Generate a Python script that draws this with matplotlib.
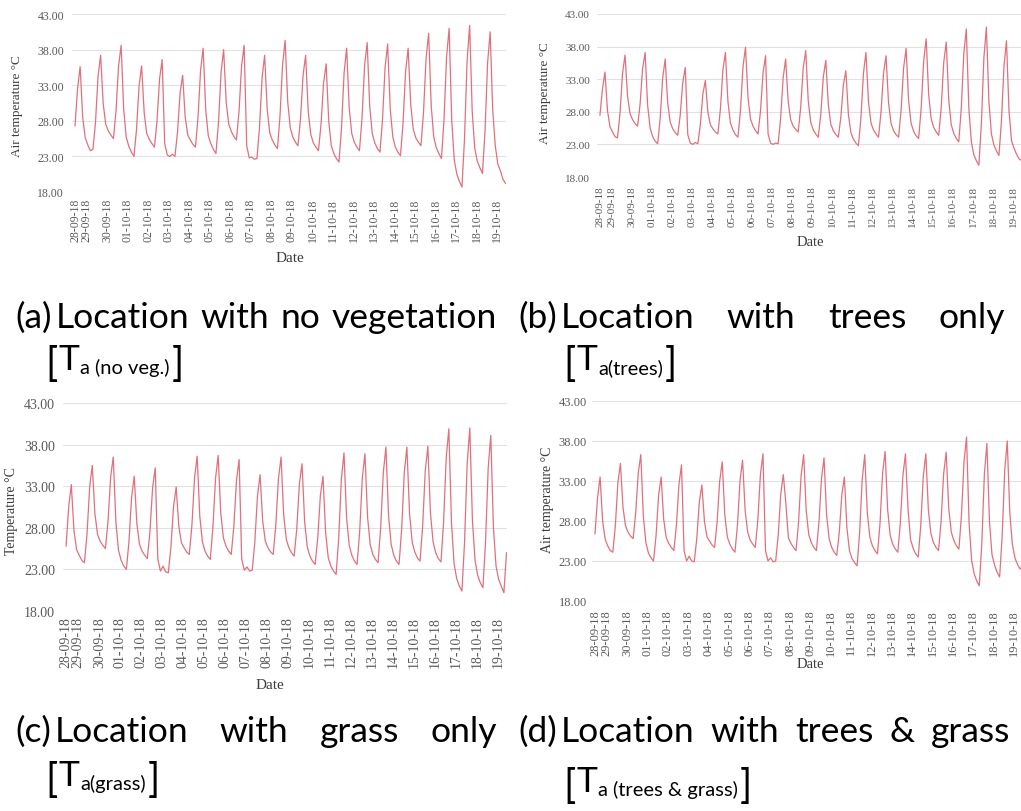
import numpy as np
import matplotlib
matplotlib.use("Agg")
import matplotlib.pyplot as plt

W, H, DPI = 1021, 812, 100

# ---------------- data ----------------
DATES = ["28-09-18", "29-09-18", "30-09-18", "01-10-18", "02-10-18", "03-10-18",
         "04-10-18", "05-10-18", "06-10-18", "07-10-18", "08-10-18", "09-10-18",
         "10-10-18", "11-10-18", "12-10-18", "13-10-18", "14-10-18", "15-10-18",
         "16-10-18", "17-10-18", "18-10-18", "19-10-18"]
START_HOUR = 10      # first reading on 28-09-18 (hour of day)
STEP_HOURS = 3       # reading interval

TA_NO_VEG = [
    27.3, 32.5, 35.6, 28.5, 25.6,
    24.6, 23.8, 24.0, 27.8, 34.3, 37.2, 30.4, 27.5,
    26.6, 26.0, 25.5, 29.4, 35.7, 38.6, 29.6, 25.7,
    24.4, 23.6, 23.0, 26.8, 32.9, 35.7, 29.1, 26.2,
    25.4, 24.8, 24.3, 28.0, 33.9, 36.6, 24.8, 23.2,
    23.0, 23.3, 23.0, 26.4, 31.9, 34.4, 28.5, 26.0,
    25.3, 24.7, 24.3, 28.5, 35.1, 38.2, 29.6, 25.9,
    24.8, 24.0, 23.4, 27.8, 34.8, 38.0, 30.6, 27.5,
    26.5, 25.8, 25.3, 29.3, 35.7, 38.6, 24.5, 22.8,
    22.9, 22.6, 22.7, 27.1, 34.0, 37.2, 29.6, 26.3,
    25.3, 24.6, 24.1, 28.7, 35.9, 39.3, 30.7, 27.0,
    25.7, 25.0, 24.5, 28.3, 34.4, 37.2, 29.4, 26.1,
    24.9, 24.3, 23.8, 27.5, 33.3, 36.0, 28.0, 24.5,
    23.4, 22.7, 22.2, 27.0, 34.7, 38.2, 29.8, 26.2,
    25.0, 24.3, 23.8, 28.4, 35.7, 39.0, 30.1, 26.2,
    24.9, 24.1, 23.6, 28.2, 35.5, 38.8, 29.7, 25.8,
    24.3, 23.6, 23.1, 27.6, 34.9, 38.2, 30.3, 26.8,
    25.6, 25.0, 24.5, 29.2, 36.8, 40.3, 30.1, 25.7,
    24.2, 23.4, 22.7, 28.2, 37.0, 41.0, 28.1, 22.5,
    20.5, 19.5, 18.7, 25.5, 36.4, 41.4, 29.3, 24.1,
    22.3, 21.4, 20.6, 26.6, 36.1, 40.5, 29.5, 24.5,
    21.9, 21.0, 19.8, 19.2]

TA_TREES = [
    27.5, 31.5, 34.1, 28.2, 25.7,
    24.9, 24.2, 24.0, 27.8, 33.9, 36.7, 30.4, 27.7,
    26.8, 26.2, 25.8, 29.2, 34.6, 37.1, 29.0, 25.5,
    24.2, 23.5, 23.1, 27.0, 33.2, 36.1, 29.3, 26.4,
    25.4, 24.8, 24.4, 27.5, 32.5, 34.8, 24.5, 23.2,
    23.0, 23.3, 23.1, 26.0, 30.7, 32.8, 28.0, 26.0,
    25.4, 24.9, 24.6, 28.4, 34.4, 37.1, 29.6, 26.3,
    25.2, 24.5, 24.1, 28.2, 34.9, 37.9, 30.2, 26.9,
    25.8, 25.1, 24.6, 28.2, 34.0, 36.6, 24.6, 23.2,
    23.0, 23.2, 23.1, 27.0, 33.2, 36.1, 29.6, 26.8,
    25.8, 25.3, 24.9, 28.7, 34.7, 37.4, 29.7, 26.4,
    25.2, 24.6, 24.1, 27.6, 33.3, 35.9, 29.1, 26.1,
    25.1, 24.5, 24.1, 27.2, 32.1, 34.3, 27.6, 24.8,
    23.8, 23.2, 22.8, 27.1, 33.9, 37.1, 29.6, 26.3,
    25.2, 24.6, 24.1, 27.9, 33.9, 36.6, 29.4, 26.2,
    25.1, 24.5, 24.1, 28.2, 34.7, 37.7, 29.7, 26.2,
    25.0, 24.3, 23.9, 28.5, 35.8, 39.2, 30.6, 26.9,
    25.6, 24.9, 24.4, 28.7, 35.6, 38.7, 29.8, 26.0,
    24.7, 23.9, 23.4, 28.6, 36.9, 40.7, 28.6, 23.4,
    21.4, 20.5, 19.8, 26.2, 36.3, 41.0, 29.6, 24.6,
    22.9, 22.0, 21.3, 26.6, 35.0, 38.9, 28.2, 23.6,
    22.4, 21.5, 20.8, 20.5]

TA_GRASS = [
    25.8, 30.5, 33.2, 27.7, 25.4,
    24.7, 24.1, 23.8, 27.3, 32.9, 35.5, 29.7, 27.2,
    26.4, 25.9, 25.5, 28.8, 34.1, 36.5, 28.7, 25.3,
    24.1, 23.4, 23.0, 26.4, 31.7, 34.2, 28.5, 26.0,
    25.2, 24.7, 24.3, 27.6, 32.8, 35.2, 24.2, 22.8,
    23.4, 22.7, 22.6, 25.7, 30.6, 32.9, 28.2, 26.2,
    25.6, 25.1, 24.8, 28.3, 34.0, 36.6, 29.4, 26.3,
    25.2, 24.6, 24.2, 28.0, 33.9, 36.7, 29.8, 26.8,
    25.8, 25.2, 24.8, 28.2, 33.7, 36.2, 24.2, 22.9,
    23.3, 22.8, 22.9, 26.3, 31.8, 34.4, 28.8, 26.4,
    25.6, 25.1, 24.8, 28.3, 33.9, 36.5, 29.6, 26.6,
    25.6, 25.0, 24.6, 27.9, 33.3, 35.7, 28.7, 25.7,
    24.6, 24.0, 23.6, 26.8, 31.9, 34.2, 27.4, 24.4,
    23.4, 22.8, 22.4, 26.8, 33.8, 37.0, 29.2, 25.9,
    24.7, 24.0, 23.6, 27.6, 34.0, 36.9, 29.3, 26.0,
    24.8, 24.2, 23.8, 28.0, 34.6, 37.7, 29.5, 26.0,
    24.7, 24.0, 23.6, 27.8, 34.6, 37.7, 29.8, 26.3,
    25.1, 24.4, 24.0, 28.1, 34.8, 37.8, 29.7, 26.3,
    25.0, 24.3, 23.9, 28.7, 36.4, 39.9, 28.6, 23.7,
    21.9, 21.0, 20.4, 26.3, 35.7, 40.0, 28.9, 24.1,
    22.3, 21.4, 20.8, 26.3, 35.1, 39.1, 28.1, 23.4,
    21.8, 21.0, 20.2, 25.0]

TA_TREES_GRASS = [
    26.4, 30.9, 33.5, 28.0, 25.7,
    24.9, 24.3, 24.1, 27.4, 32.8, 35.2, 29.7, 27.4,
    26.6, 26.1, 25.8, 29.0, 34.0, 36.3, 28.6, 25.3,
    24.0, 23.4, 23.0, 26.2, 31.2, 33.5, 28.2, 25.9,
    25.2, 24.7, 24.3, 27.5, 32.6, 35.0, 24.3, 23.0,
    23.6, 23.0, 22.9, 25.8, 30.4, 32.5, 28.0, 26.0,
    25.5, 25.0, 24.7, 27.9, 33.0, 35.4, 28.8, 26.0,
    25.1, 24.5, 24.1, 27.6, 33.1, 35.6, 29.3, 26.6,
    25.6, 25.1, 24.7, 28.2, 33.8, 36.4, 24.3, 23.0,
    23.4, 22.9, 23.0, 26.2, 31.4, 33.8, 30.2, 25.9,
    25.2, 24.7, 24.3, 27.9, 33.7, 36.3, 29.3, 26.3,
    25.3, 24.7, 24.3, 27.8, 33.3, 35.9, 28.8, 25.8,
    24.7, 24.1, 23.7, 26.6, 31.3, 33.5, 27.1, 24.3,
    23.3, 22.8, 22.4, 26.6, 33.2, 36.3, 29.1, 26.0,
    24.9, 24.3, 23.9, 27.7, 33.9, 36.7, 29.4, 26.2,
    25.1, 24.5, 24.1, 27.8, 33.7, 36.4, 29.5, 25.7,
    24.6, 23.9, 23.5, 27.4, 33.6, 36.4, 29.4, 26.4,
    25.3, 24.7, 24.3, 28.0, 33.9, 36.6, 29.6, 26.6,
    25.6, 24.9, 24.5, 28.7, 35.4, 38.5, 27.7, 23.1,
    21.4, 20.5, 19.9, 25.2, 33.8, 37.7, 28.0, 23.8,
    22.5, 21.6, 21.0, 26.1, 34.3, 38.0, 29.0, 25.1,
    23.4, 22.6, 22.0, 22.4]

Y_TICKS = [18, 23, 28, 33, 38, 43]
Y_LABELS = ["Air temperature °C", "Air temperature °C", "Temperature °C", "Air temperature °C"]
CAP_LABELS = ["(a)", "(b)", "(c)", "(d)"]
CAP_WORDS = [["Location", "with", "no", "vegetation"],
             ["Location", "with", "trees", "only"],
             ["Location", "with", "grass", "only"],
             ["Location", "with", "trees", "&", "grass"]]
CAP_SUBS = ["a (no veg.)", "a(trees)", "a(grass)", "a (trees & grass)"]

# ---------------- style / layout ----------------
LINE_COLOR = "#e0707c"
GRID_COLOR = "#e2e2e2"
TICK_COLOR = "#5a5a5a"
LABEL_COLOR = "#3c3c3c"
SERIF = ["Liberation Serif", "DejaVu Serif"]
CAP_FONT = ["Lato", "DejaVu Sans"]
XLIM = (0.27, 21.44)

LAYOUT = [
    dict(box=(72, 15, 506, 193), fs=8.5, ypad=8, xpad=6, ylab=(17, 106), ylab_fs=9.5, date=(290, 258), date_fs=11),
    dict(box=(597, 15, 1022, 178), fs=8.0, ypad=7, xpad=8, ylab=(545, 93), ylab_fs=9.5, date=(810, 243), date_fs=10.5),
    dict(box=(63, 404, 507, 612), fs=10.0, ypad=8, xpad=5, ylab=(12, 511), ylab_fs=10, date=(270, 686), date_fs=11),
    dict(box=(592, 402, 1023, 602), fs=9.0, ypad=5, xpad=8, ylab=(547, 500), ylab_fs=10, date=(810, 665), date_fs=10.5),
]
CAP_LAYOUT = [
    dict(x0=15, x1=497, y1=328, x2=45, y2=370),
    dict(x0=518, x1=1005, y1=328, x2=563, y2=370),
    dict(x0=15, x1=497, y1=742, x2=45, y2=786),
    dict(x0=518, x1=1010, y1=742, x2=563, y2=792),
]
CAP_SIZE = 25.5
SUB_SIZE = 14.5
BRACKET_SIZE = 29

fig = plt.figure(figsize=(W / DPI, H / DPI), dpi=DPI)
fig.patch.set_facecolor("white")


def fx(x):
    return x / W


def fy(y):
    return 1 - y / H


series_all = [TA_NO_VEG, TA_TREES, TA_GRASS, TA_TREES_GRASS]
n = len(TA_NO_VEG)
hours = START_HOUR + STEP_HOURS * np.arange(n)
tick_pos = [hours[0] / 24.0] + list(range(1, len(DATES)))

for series, ylabel, lay in zip(series_all, Y_LABELS, LAYOUT):
    l, t, r, b = lay["box"]
    ax = fig.add_axes([fx(l), fy(b), (r - l) / W, (b - t) / H])
    x = hours[: len(series)] / 24.0
    ax.plot(x, series, color=LINE_COLOR, lw=0.9, zorder=3)
    ax.set_xlim(*XLIM)
    ax.set_ylim(Y_TICKS[0], Y_TICKS[-1])
    ax.set_yticks(Y_TICKS)
    ax.set_yticklabels([f"{v:.2f}" for v in Y_TICKS], family=SERIF, fontsize=lay["fs"], color=TICK_COLOR)
    ax.set_xticks(tick_pos)
    ax.set_xticklabels(DATES, rotation=90, family=SERIF, fontsize=lay["fs"], color=TICK_COLOR)
    ax.tick_params(axis="both", length=0)
    ax.tick_params(axis="y", pad=lay["ypad"] * 0.72)
    ax.tick_params(axis="x", pad=lay["xpad"] * 0.72)
    ax.grid(axis="y", color=GRID_COLOR, lw=0.8)
    ax.set_axisbelow(True)
    for s in ax.spines.values():
        s.set_visible(False)
    ax.patch.set_alpha(0)
    fig.text(fx(lay["ylab"][0]), fy(lay["ylab"][1]), ylabel, rotation=90, ha="center", va="center",
             family=SERIF, fontsize=lay["ylab_fs"], color=LABEL_COLOR)
    fig.text(fx(lay["date"][0]), fy(lay["date"][1]), "Date", ha="center", va="center",
             family=SERIF, fontsize=lay["date_fs"], color=LABEL_COLOR)

# ---------------- captions ----------------
fig.canvas.draw()
rend = fig.canvas.get_renderer()


def put(x, yb, s, size, weight="normal"):
    tx = fig.text(fx(x), fy(yb), s, fontsize=size, family=CAP_FONT, ha="left", va="baseline",
                  color="black", fontweight=weight)
    bb = tx.get_window_extent(rend)
    return tx, bb.x1


for lab, words, sub, cl in zip(CAP_LABELS, CAP_WORDS, CAP_SUBS, CAP_LAYOUT):
    _, xe = put(cl["x0"], cl["y1"], lab, CAP_SIZE)
    start = xe + 4
    texts = [put(0, cl["y1"], w, CAP_SIZE) for w in words]
    widths = [tx.get_window_extent(rend).width for tx, _ in texts]
    gap = (cl["x1"] - start - sum(widths)) / (len(words) - 1)
    xc = start
    for (tx, _), w in zip(texts, widths):
        tx.set_position((fx(xc), fy(cl["y1"])))
        xc += w + gap
    # second line  [T_sub]
    _, xe = put(cl["x2"], cl["y2"] + 6, "[", BRACKET_SIZE)
    _, xe = put(xe + 1, cl["y2"], "T", CAP_SIZE)
    _, xe = put(xe + 1, cl["y2"] + 4, sub, SUB_SIZE)
    put(xe + 2, cl["y2"] + 6, "]", BRACKET_SIZE)

fig.savefig("out.png", dpi=DPI, facecolor="white")
